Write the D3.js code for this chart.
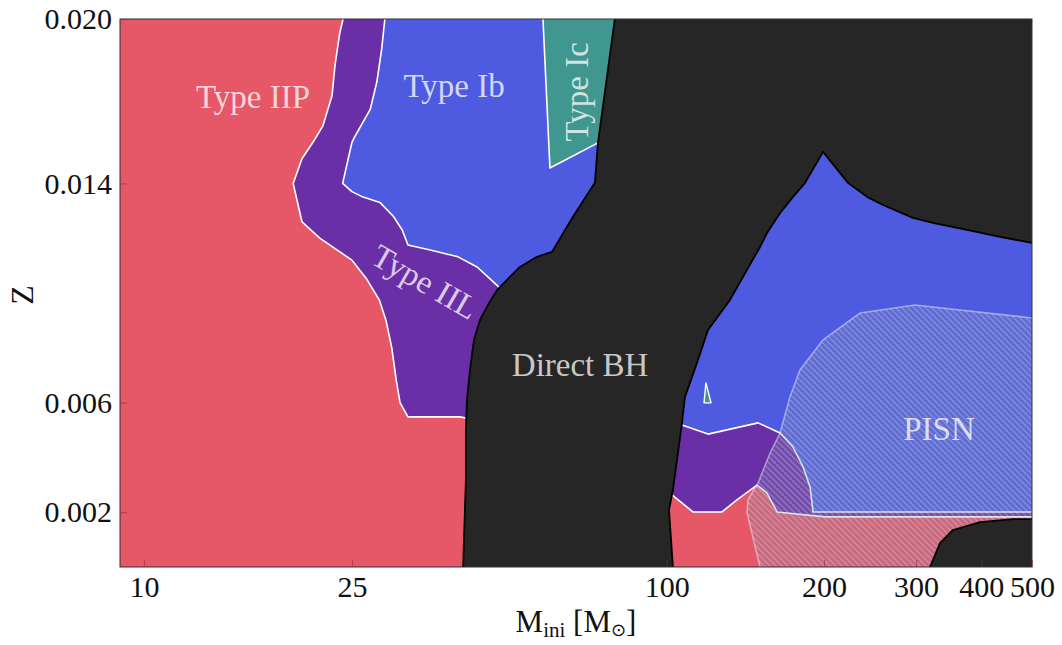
<!DOCTYPE html>
<html>
<head>
<meta charset="utf-8">
<script src="https://cdn.jsdelivr.net/npm/d3@7"></script>
<style>
  html, body { margin: 0; padding: 0; background: #fff; }
  svg { display: block; }
</style>
</head>
<body>
<svg id="chart" width="1062" height="645"></svg>
<script>
// Supernova outcome map: initial mass (log axis) vs metallicity Z.
// Each region is a polygon in [M_ini, Z] data space; points beyond the
// axes are clipped by the plot frame.

const massTicks = [10, 25, 100, 200, 300, 400, 500];
const zTicks = [0.002, 0.006, 0.014, 0.020];

const typeIIL = [
  [24.1, 0.0210], [24.04, 0.0200], [23.7, 0.0195], [23.2, 0.0183], [22.9, 0.0172],
  [22.0, 0.0161], [21.06, 0.0155], [20.06, 0.0149], [19.3, 0.0140], [20.06, 0.0126],
  [21.7, 0.0120], [25.0, 0.0112], [26.7, 0.0105], [28.2, 0.00975], [29.05, 0.0090],
  [29.8, 0.0080], [30.4, 0.0068], [30.9, 0.0060], [32.0, 0.00548], [40.2, 0.00548],
  [41.3, 0.00544], [90, 0.0054], [90, 0.0210]
];

const typeIb = [
  [28.9, 0.0210], [28.9, 0.0200], [28.5, 0.0189], [27.9, 0.0177], [27.1, 0.0167],
  [25.3, 0.0157], [25.0, 0.0155], [24.0, 0.0140], [25.0, 0.0137], [26.25, 0.0135],
  [28.3, 0.0133], [30.0, 0.0128], [31.2, 0.0123], [32.0, 0.01175], [35.3, 0.01157],
  [39.9, 0.01132], [43.4, 0.01095], [45.5, 0.01059], [48.0, 0.01018], [90, 0.0100],
  [90, 0.0210]
];

const typeIc = [
  [58.0, 0.0210], [58.0, 0.0200], [59.8, 0.01456], [73.9, 0.01548], [90, 0.0155], [90, 0.0210]
];

const typeIcSpeck = [[118.9, 0.00672], [117.9, 0.00599], [121.6, 0.00599]];

const highMassIb = [
  [97.1, 0.0210], [97.1, 0.00518], [107.0, 0.00518], [120.0, 0.00485], [149.6, 0.00526],
  [164.8, 0.00489], [174.5, 0.00438], [182.4, 0.00365], [188.1, 0.00292], [190.6, 0.00201],
  [540, 0.00201], [540, 0.0210]
];

const highMassIIL = [
  [97.1, 0.0028], [102.4, 0.00263], [112.3, 0.00201], [127.6, 0.00201], [136.3, 0.00245],
  [148.9, 0.00299], [155.6, 0.0027], [162.7, 0.00201], [201.0, 0.00183], [540, 0.00183],
  [540, 0.0060], [97.1, 0.0060]
];

const directBH = [
  [79.6, 0.0210], [79.6, 0.0200], [73.9, 0.01548], [72.9, 0.01402], [66.2, 0.01278],
  [60.35, 0.0115], [56.5, 0.01132], [52.4, 0.01095], [49.5, 0.01048], [47.4, 0.01011],
  [45.5, 0.00956], [43.96, 0.00902], [42.8, 0.00829], [42.05, 0.00719], [41.5, 0.0061],
  [41.3, 0.0050], [41.3, 0.00318], [40.8, 0.0], [40.8, -0.001], [102.8, -0.001],
  [102.8, 0.0], [101.05, 0.00208], [102.8, 0.00281], [107.0, 0.00526], [108.4, 0.00621],
  [114.3, 0.00745], [120.0, 0.00865], [132.2, 0.00975], [140.0, 0.01059], [150.9, 0.01168],
  [155.6, 0.01219], [164.8, 0.01292], [174.5, 0.01351], [184.0, 0.01402], [199.2, 0.01515],
  [222.3, 0.01402], [241.8, 0.01351], [259.4, 0.01321], [296.0, 0.01274], [323.2, 0.01256],
  [375.6, 0.0123], [434.3, 0.01205], [500, 0.01183], [540, 0.0118], [540, 0.0210]
];

const lowZBH = [
  [319.0, -0.001], [319.0, 0.0], [333.6, 0.00088], [353.0, 0.00135], [397.7, 0.00164],
  [459.8, 0.00175], [500, 0.00175], [540, 0.00175], [540, -0.001]
];

const pisn = [
  [298.6, 0.00956], [500, 0.00909], [540, 0.0090], [540, -0.001], [150.9, -0.001],
  [150.9, 0.0], [142.5, 0.00197], [143.1, 0.00245], [149.6, 0.00307], [157.7, 0.00416],
  [164.8, 0.00489], [172.2, 0.00621], [179.9, 0.00719], [199.2, 0.00829], [234.4, 0.00927]
];

const labels = [
  { text: "Type IIP", m: 16.17, z: 0.01675, angle: 0 },
  { text: "Type Ib", m: 39.2, z: 0.01715, angle: 0 },
  { text: "Type Ic", m: 67.4, z: 0.01734, angle: -90 },
  { text: "Type IIL", m: 34.5, z: 0.01040, angle: 30 },
  { text: "Direct BH", m: 68.3, z: 0.00696, angle: 0 },
  { text: "PISN", m: 331.9, z: 0.00464, angle: 0 }
];

const colors = {
  iip: "#e65767",
  iil: "#6a2fa6",
  ib: "#4e5be0",
  ic: "#3f978f",
  bh: "#262626"
};

const serif = '"Liberation Serif", "DejaVu Serif", serif';

const width = 1062, height = 645;
const margin = { left: 120, right: 30, top: 19, bottom: 78 };
const x0 = margin.left, x1 = width - margin.right;
const y0 = margin.top, y1 = height - margin.bottom;

const x = d3.scaleLog().domain([9, 500]).range([x0, x1]);
const y = d3.scaleLinear().domain([0, 0.020]).range([y1, y0]);

const svg = d3.select("#chart");
const defs = svg.append("defs");

defs.append("clipPath").attr("id", "plot-clip")
  .append("rect").attr("x", x0).attr("y", y0).attr("width", x1 - x0).attr("height", y1 - y0);

const hatch = defs.append("pattern")
  .attr("id", "hatch")
  .attr("patternUnits", "userSpaceOnUse")
  .attr("width", 6).attr("height", 6);
hatch.append("path")
  .attr("d", "M-1,-1 L7,7 M-1,5 L1,7 M5,-1 L7,1")
  .attr("stroke", "#ffffff")
  .attr("stroke-opacity", 0.24)
  .attr("stroke-width", 1.3);

const line = d3.line().x(d => x(d[0])).y(d => y(d[1]));
const closed = pts => line(pts) + "Z";

const plot = svg.append("g").attr("clip-path", "url(#plot-clip)");

// Background: Type IIP fills everything not claimed by another outcome
plot.append("rect")
  .attr("x", x0).attr("y", y0).attr("width", x1 - x0).attr("height", y1 - y0)
  .attr("fill", colors.iip);

function region(pts, fill, stroke, sw) {
  plot.append("path")
    .attr("d", closed(pts))
    .attr("fill", fill)
    .attr("stroke", stroke)
    .attr("stroke-width", sw)
    .attr("stroke-linejoin", "round");
}

region(typeIIL, colors.iil, "#ffffff", 1.6);
region(typeIb, colors.ib, "#ffffff", 1.6);
region(typeIc, colors.ic, "#ffffff", 1.6);
region(highMassIIL, colors.iil, "#ffffff", 1.6);
region(highMassIb, colors.ib, "#ffffff", 1.6);
region(typeIcSpeck, colors.ic, "#ffffff", 1.4);
region(directBH, colors.bh, "#000000", 1.8);

// Pair-instability region: translucent hatched overlay
plot.append("path")
  .attr("d", closed(pisn))
  .attr("fill", "#8594b6")
  .attr("fill-opacity", 0.3);
plot.append("path")
  .attr("d", closed(pisn))
  .attr("fill", "url(#hatch)")
  .attr("stroke", "#e8ecf4")
  .attr("stroke-opacity", 0.5)
  .attr("stroke-width", 1.6);

region(lowZBH, colors.bh, "#000000", 1.8);

// Region labels
const labelG = svg.append("g").attr("clip-path", "url(#plot-clip)");
labels.forEach(l => {
  const px = x(l.m), py = y(l.z);
  labelG.append("text")
    .attr("transform", `translate(${px},${py}) rotate(${l.angle})`)
    .attr("text-anchor", "middle")
    .attr("dominant-baseline", l.angle === 0 ? "alphabetic" : "central")
    .style("font-family", serif)
    .style("font-size", "33px")
    .attr("fill", "#ffffff")
    .attr("fill-opacity", 0.76)
    .text(l.text);
});

// Frame
svg.append("rect")
  .attr("x", x0).attr("y", y0).attr("width", x1 - x0).attr("height", y1 - y0)
  .attr("fill", "none").attr("stroke", "#333").attr("stroke-width", 1);

// Axes with inward ticks
const xAxis = d3.axisBottom(x).tickValues(massTicks).tickFormat(d3.format("d"))
  .tickSize(-7).tickPadding(9);
const yAxis = d3.axisLeft(y).tickValues(zTicks).tickFormat(d3.format(".3f"))
  .tickSize(-7).tickPadding(8);

const gx = svg.append("g").attr("transform", `translate(0,${y1})`).call(xAxis);
const gy = svg.append("g").attr("transform", `translate(${x0},0)`).call(yAxis);
[gx, gy].forEach(g => {
  g.select(".domain").remove();
  g.selectAll(".tick line").attr("stroke", "#8a2f2f").attr("stroke-opacity", 0.6);
  g.selectAll(".tick text")
    .style("font-family", serif)
    .style("font-size", "30px")
    .style("font-weight", "normal")
    .attr("fill", "#111");
});

// Axis titles
const xt = svg.append("text")
  .attr("x", (x0 + x1) / 2)
  .attr("y", 632)
  .attr("text-anchor", "middle")
  .style("font-family", serif)
  .style("font-size", "31px")
  .attr("fill", "#111");
xt.append("tspan").text("M");
xt.append("tspan").style("font-size", "21px").attr("dy", 5).text("ini");
xt.append("tspan").attr("dy", -5).text(" [M");
xt.append("tspan").style("font-size", "18px").attr("dy", 4)
  .style("font-family", '"DejaVu Sans", sans-serif').text("\u2299");
xt.append("tspan").attr("dy", -4).text("]");

svg.append("text")
  .attr("transform", `translate(33,${(y0 + y1) / 2 + 2}) rotate(-90)`)
  .attr("text-anchor", "middle")
  .style("font-family", serif)
  .style("font-size", "32px")
  .attr("fill", "#111")
  .text("Z");
</script>
</body>
</html>
